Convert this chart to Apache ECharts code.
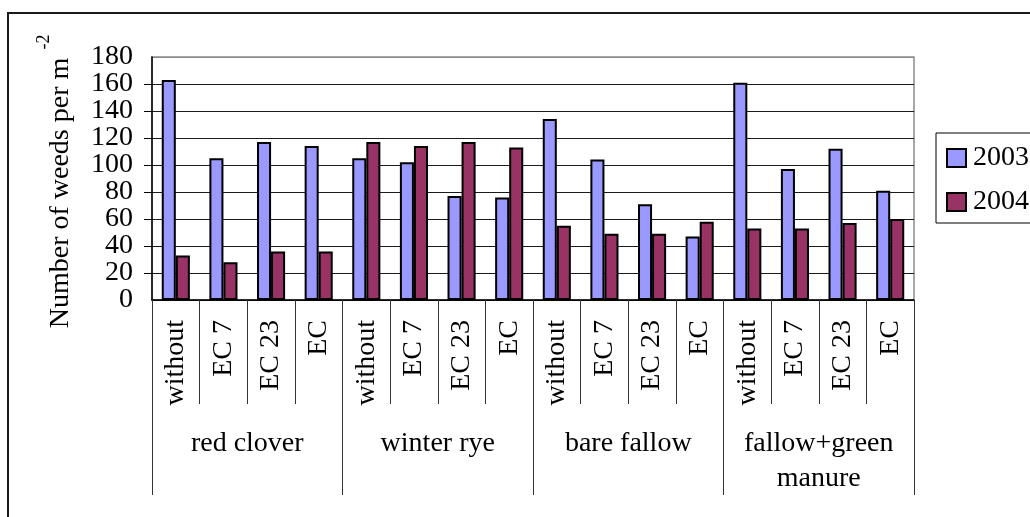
<!DOCTYPE html>
<html>
<head>
<meta charset="utf-8">
<script src="https://cdn.jsdelivr.net/npm/echarts@6/dist/echarts.min.js"></script>
<style>
  html, body { margin: 0; padding: 0; background: #fff; }
  #chart { width: 1030px; height: 517px; }
</style>
</head>
<body>
<div id="chart"></div>
<script>
// Weed density per treatment, two seasons
const treatments = ['without', 'EC 7', 'EC 23', 'EC',
                    'without', 'EC 7', 'EC 23', 'EC',
                    'without', 'EC 7', 'EC 23', 'EC',
                    'without', 'EC 7', 'EC 23', 'EC'];
const crops = ['red clover', 'winter rye', 'bare fallow', 'fallow+green\nmanure'];
const weeds2003 = [163, 105, 117, 114, 105, 102, 77, 76, 134, 104, 71, 47, 161, 97, 112, 81];
const weeds2004 = [33, 28, 36, 36, 117, 114, 117, 113, 55, 49, 49, 58, 53, 53, 57, 60];
const yTicks = { min: 0, max: 180, interval: 20 };

const serif = 'Liberation Serif';
const chart = echarts.init(document.getElementById('chart'), null, { renderer: 'canvas' });

// split line colours: dark for inner lines, grey at the top edge of the plot
const splitColors = [];
for (let v = yTicks.min; v <= yTicks.max; v += yTicks.interval) {
  splitColors.push(v === yTicks.max ? '#8c8c8c' : '#1a1a1a');
}

const yLabelStyle = { margin: 19, fontFamily: serif, fontSize: 28, color: '#000' };

chart.setOption({
  animation: false,
  backgroundColor: '#fff',
  textStyle: { fontFamily: serif },
  grid: {
    left: 152, right: 116, top: 57, bottom: 217,
    show: true, borderColor: '#8c8c8c', borderWidth: 1.5, backgroundColor: '#fff'
  },
  legend: {
    orient: 'vertical',
    left: 936, top: 133,
    padding: [11, 60, 7, 10],
    itemGap: 16,
    itemWidth: 19, itemHeight: 18,
    borderColor: '#000', borderWidth: 1,
    icon: 'rect',
    textStyle: { fontFamily: serif, fontSize: 28, color: '#000', padding: [0, 0, 0, 2] },
    data: ['2003', '2004']
  },
  xAxis: [
    {
      type: 'category',
      data: treatments,
      position: 'bottom',
      axisLine: { show: true, lineStyle: { color: '#000', width: 1.5 } },
      axisTick: { show: true, interval: 0, length: 104, lineStyle: { color: '#333', width: 1 } },
      axisLabel: {
        interval: 0, rotate: 90, margin: 20,
        fontFamily: serif, fontSize: 28, color: '#000'
      }
    },
    {
      type: 'category',
      data: crops,
      position: 'bottom',
      axisLine: { show: false },
      axisTick: { show: true, interval: 0, length: 195, lineStyle: { color: '#333', width: 1 } },
      axisLabel: {
        interval: 0, margin: 126,
        fontFamily: serif, fontSize: 28, lineHeight: 35, color: '#000', align: 'center'
      }
    }
  ],
  yAxis: [
    {
      // main value axis: line, ticks, grid lines and the inner labels
      type: 'value',
      min: yTicks.min, max: yTicks.max, interval: yTicks.interval,
      axisLine: { show: true, lineStyle: { color: '#000', width: 1.5 } },
      axisTick: { show: true, length: 8, lineStyle: { color: '#000' } },
      axisLabel: Object.assign({ showMinLabel: false, showMaxLabel: false }, yLabelStyle),
      splitLine: { show: true, lineStyle: { color: splitColors, width: 1 } }
    },
    {
      // same scale, carries only the end labels (0 and 180)
      type: 'value', position: 'left',
      min: yTicks.min, max: yTicks.max, interval: yTicks.interval,
      axisLine: { show: false }, axisTick: { show: false }, splitLine: { show: false },
      axisLabel: Object.assign({
        showMinLabel: true, showMaxLabel: true,
        formatter: v => (v === yTicks.min || v === yTicks.max) ? String(v) : ''
      }, yLabelStyle)
    }
  ],
  series: [
    {
      name: '2003', type: 'bar', xAxisIndex: 0, yAxisIndex: 0,
      data: weeds2003,
      barGap: '0%', barCategoryGap: '41%',
      itemStyle: { color: '#9999FF', borderColor: '#000', borderWidth: 2 }
    },
    {
      name: '2004', type: 'bar', xAxisIndex: 0, yAxisIndex: 0,
      data: weeds2004,
      barGap: '0%', barCategoryGap: '41%',
      itemStyle: { color: '#993366', borderColor: '#000', borderWidth: 2 }
    }
  ],
  graphic: [
    {
      type: 'rect', silent: true, z: -10,
      shape: { x: 8, y: 13, width: 1040, height: 540 },
      style: { fill: 'none', stroke: '#1a1a1a', lineWidth: 2 }
    },
    {
      type: 'text', silent: true,
      x: 61, y: 193, rotation: Math.PI / 2,
      style: {
        text: 'Number of weeds per m',
        fontFamily: serif, fontSize: 28, fill: '#000',
        align: 'center', verticalAlign: 'middle'
      }
    },
    {
      type: 'text', silent: true,
      x: 44, y: 42, rotation: Math.PI / 2,
      style: {
        text: '-2',
        fontFamily: serif, fontSize: 18, fill: '#000',
        align: 'center', verticalAlign: 'middle'
      }
    }
  ]
});
</script>
</body>
</html>
